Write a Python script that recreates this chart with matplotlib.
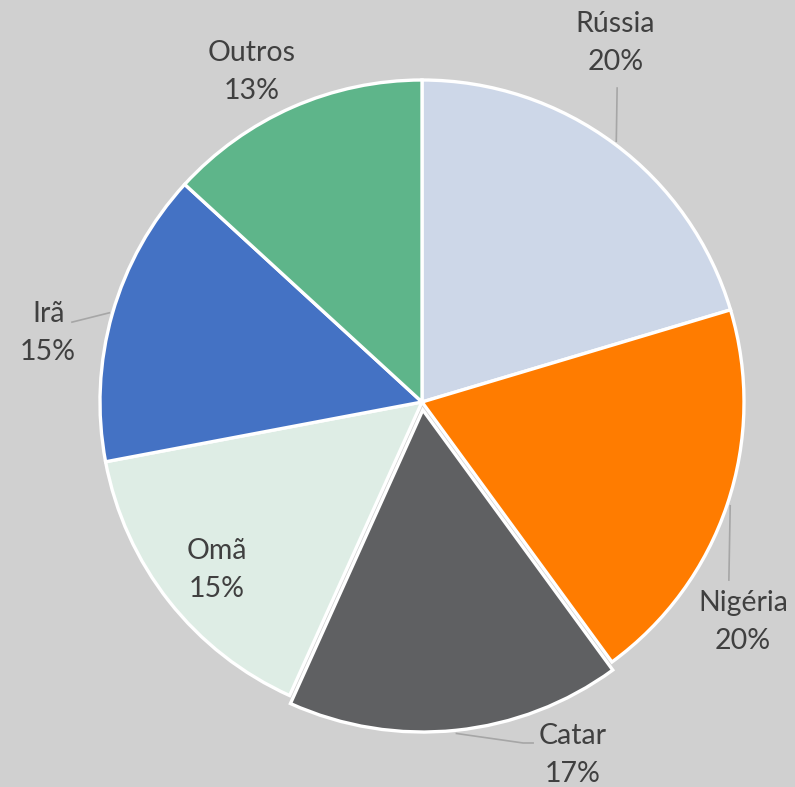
import matplotlib.pyplot as plt
import numpy as np

# Data (share of total, %)
countries = ["Rússia", "Nigéria", "Catar", "Omã", "Irã", "Outros"]
shares = [20.4, 19.6, 16.8, 15.3, 14.8, 13.2]
colors = ["#CDD7E8", "#FF7C00", "#5F6062", "#DEEDE5", "#4472C4", "#5EB58A"]
explode = [0, 0, 0.025, 0, 0, 0]

# label placement (data units, pie radius = 1) and optional leader line end
label_pos = {
    "Rússia": (0.60, 1.115),
    "Nigéria": (0.997, -0.683),
    "Catar": (0.469, -1.096),
    "Omã": (-0.637, -0.522),
    "Irã": (-1.161, 0.214),
    "Outros": (-0.528, 1.025),
}
leader_end = {
    "Rússia": [(0.606, 0.975)],
    "Nigéria": [(0.953, -0.553)],
    "Catar": [(0.314, -1.059), (0.345, -1.059)],
    "Irã": [(-1.087, 0.248)],
}

bg = "#D0D0D0"
fig = plt.figure(figsize=(7.95, 7.87), dpi=100, facecolor=bg)
ax = fig.add_axes([0, 0, 1, 1])
ax.set_facecolor(bg)

wedges, _ = ax.pie(shares, colors=colors, explode=explode, startangle=90,
                   counterclock=False, radius=1,
                   wedgeprops=dict(edgecolor="white", linewidth=2.4))

ax.set_aspect("auto")
scale = 322.0
cx, cy = 422.0, 787 - 402.0
ax.set_xlim(-cx / scale, (795 - cx) / scale)
ax.set_ylim(-cy / scale, (787 - cy) / scale)
ax.axis("off")

total = sum(shares)
for w, name, val, ex in zip(wedges, countries, shares, explode):
    mid = np.deg2rad((w.theta1 + w.theta2) / 2)
    lx, ly = label_pos[name]
    ax.text(lx, ly, f"{name}\n{round(val / total * 100):.0f}%", ha="center",
            va="center", fontsize=20.5, family="Lato", color="#404040",
            linespacing=1.6)
    if name in leader_end:
        r = 1.0 + ex + 0.01
        pts = [(r * np.cos(mid), r * np.sin(mid))] + leader_end[name]
        xs, ys = zip(*pts)
        ax.plot(xs, ys, color="#A6A6A6", linewidth=1.2)

fig.savefig("out.png", dpi=100, facecolor=bg)
